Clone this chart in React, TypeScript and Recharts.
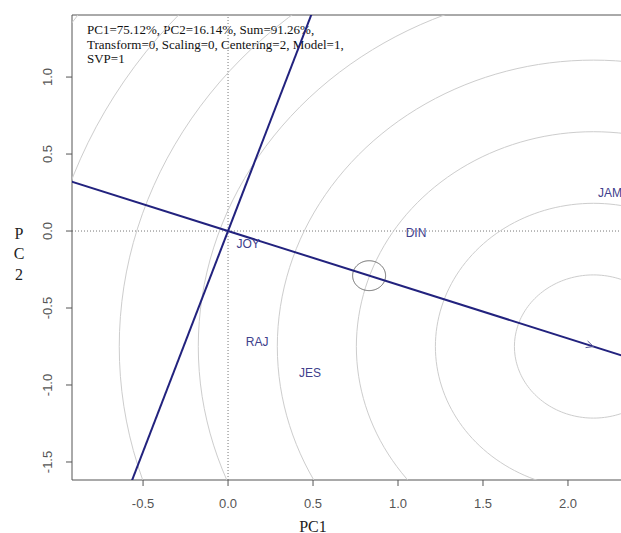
import { ComposedChart, Scatter, XAxis, YAxis, ReferenceLine } from "recharts";

// axis ranges and ticks
const X_DOMAIN: [number, number] = [-0.918, 2.312];
const Y_DOMAIN: [number, number] = [-1.617, 1.403];
const X_TICKS = [-0.5, 0, 0.5, 1, 1.5, 2];
const Y_TICKS = [-1.5, -1, -0.5, 0, 0.5, 1];

// ideal point (centre of the rings) and ring radii
const IDEAL = { x: 2.15, y: -0.75 };
const RING_RADII = [0.465, 0.93, 1.395, 1.86, 2.325, 2.79, 3.255, 3.72];

// average environment marker
const AVG_ENV = { x: 0.83, y: -0.29 };
const AVG_ENV_R = 0.097;

// labels
const NAMES = ["JOY", "DIN", "JAM", "RAJ", "JES"];
const PC1 = [0.118, 1.106, 2.247, 0.171, 0.482];
const PC2 = [-0.084, -0.013, 0.247, -0.721, -0.922];

const NOTE = [
  "PC1=75.12%, PC2=16.14%, Sum=91.26%,",
  "Transform=0, Scaling=0, Centering=2, Model=1,",
  "SVP=1",
];

// chart sits at the page's top-left corner (fixed, so no scrollbar)
const W = 621;
const H = 533;
const PLOT_LEFT = 72;
const PLOT_TOP = 15;
const PLOT_W = W - PLOT_LEFT;
const PLOT_H = 465;
const PX_X = PLOT_W / (X_DOMAIN[1] - X_DOMAIN[0]);
const PX_Y = PLOT_H / (Y_DOMAIN[1] - Y_DOMAIN[0]);

const NAVY = "#22227e";
const FRAME = "#555";

function ring(cx: number, cy: number, r: number) {
  const pts = [];
  for (let i = 0; i <= 180; i++) {
    const a = (i / 180) * Math.PI * 2;
    pts.push({ x: cx + r * Math.cos(a), y: cy + r * Math.sin(a) });
  }
  return pts;
}

const noDot = () => <g />;

const abscissa = [
  { x: -3 * IDEAL.x, y: -3 * IDEAL.y },
  { x: 3 * IDEAL.x, y: 3 * IDEAL.y },
];
const ordinate = [
  { x: IDEAL.y, y: -IDEAL.x },
  { x: -IDEAL.y, y: IDEAL.x },
];

const labels = NAMES.map((name, i) => ({ x: PC1[i], y: PC2[i], name }));

function Arrow(p: any) {
  const ang = Math.atan2(-IDEAL.y * PX_Y, IDEAL.x * PX_X);
  const L = 8;
  const a1 = ang + 0.45;
  const a2 = ang - 0.45;
  return (
    <g stroke="#5a5a9a" strokeWidth={1}>
      <line x1={p.cx} y1={p.cy} x2={p.cx - L * Math.cos(a1)} y2={p.cy - L * Math.sin(a1)} />
      <line x1={p.cx} y1={p.cy} x2={p.cx - L * Math.cos(a2)} y2={p.cy - L * Math.sin(a2)} />
    </g>
  );
}

function NameLabel(p: any) {
  return (
    <text
      x={p.cx}
      y={p.cy}
      textAnchor="middle"
      dominantBaseline="central"
      fontFamily="'Liberation Sans', Arial, sans-serif"
      fontSize={12}
      fill="#40408c"
    >
      {p.payload.name}
    </text>
  );
}

function XTick(p: any) {
  return (
    <text
      x={p.x}
      y={503}
      textAnchor="middle"
      dominantBaseline="central"
      fontFamily="'Liberation Sans', Arial, sans-serif"
      fontSize={13}
      fill="#555"
    >
      {p.payload.value.toFixed(1)}
    </text>
  );
}

function YTick(p: any) {
  return (
    <text
      x={48}
      y={p.y}
      transform={`rotate(-90, 48, ${p.y})`}
      textAnchor="middle"
      dominantBaseline="central"
      fontFamily="'Liberation Sans', Arial, sans-serif"
      fontSize={13}
      fill="#555"
    >
      {p.payload.value.toFixed(1)}
    </text>
  );
}

export default function App() {
  const serif = "'Liberation Serif', 'Times New Roman', serif";
  return (
    <div style={{ position: "fixed", left: 0, top: 0, width: W, height: H, overflow: "hidden", background: "#fff" }}>
      <ComposedChart width={W} height={H} margin={{ top: PLOT_TOP, right: 0, bottom: 0, left: 0 }}>
        <XAxis
          type="number"
          dataKey="x"
          domain={X_DOMAIN}
          ticks={X_TICKS}
          allowDataOverflow
          height={H - PLOT_TOP - PLOT_H}
          stroke={FRAME}
          tickSize={6}
          tick={XTick}
        />
        <YAxis
          type="number"
          dataKey="y"
          domain={Y_DOMAIN}
          ticks={Y_TICKS}
          allowDataOverflow
          width={PLOT_LEFT}
          stroke={FRAME}
          tickSize={6}
          tick={YTick}
        />
        <ReferenceLine y={Y_DOMAIN[1]} stroke={FRAME} ifOverflow="visible" />
        {RING_RADII.map((r) => (
          <Scatter
            key={r}
            data={ring(IDEAL.x, IDEAL.y, r)}
            line={{ stroke: "#cdcdcd", strokeWidth: 1 }}
            shape={noDot}
            isAnimationActive={false}
          />
        ))}
        <ReferenceLine x={0} stroke="#777" strokeDasharray="1 2" />
        <ReferenceLine y={0} stroke="#777" strokeDasharray="1 2" />
        <Scatter
          data={ring(AVG_ENV.x, AVG_ENV.y, AVG_ENV_R)}
          line={{ stroke: "#666", strokeWidth: 1 }}
          shape={noDot}
          isAnimationActive={false}
        />
        <Scatter data={abscissa} line={{ stroke: NAVY, strokeWidth: 2 }} shape={noDot} isAnimationActive={false} />
        <Scatter data={ordinate} line={{ stroke: NAVY, strokeWidth: 2 }} shape={noDot} isAnimationActive={false} />
        <Scatter data={[IDEAL]} shape={Arrow} isAnimationActive={false} />
        <Scatter data={labels} shape={NameLabel} isAnimationActive={false} />
        <g fontFamily={serif} fontSize={13} fill="#111">
          {NOTE.map((t, i) => (
            <text key={t} x={87} y={34 + i * 14.5}>
              {t}
            </text>
          ))}
        </g>
        <g fontFamily={serif} fontSize={16} fill="#222" textAnchor="middle" dominantBaseline="central">
          <text x={19} y={233}>P</text>
          <text x={19} y={253}>C</text>
          <text x={19} y={274}>2</text>
          <text x={313} y={526}>PC1</text>
        </g>
      </ComposedChart>
    </div>
  );
}
